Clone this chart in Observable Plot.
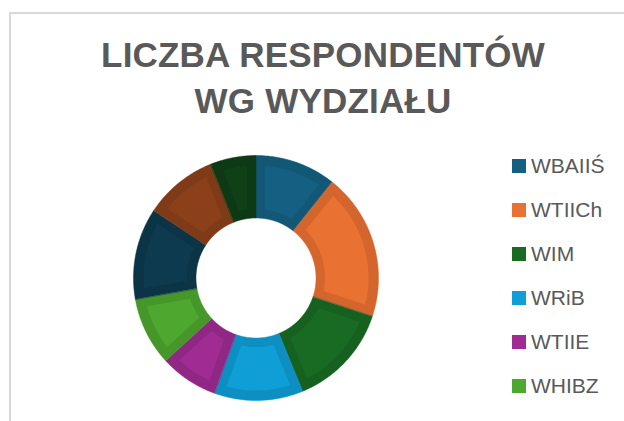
<!DOCTYPE html>
<html>
<head>
<meta charset="utf-8">
<script src="https://cdn.jsdelivr.net/npm/d3@7"></script>
<script src="https://cdn.jsdelivr.net/npm/@observablehq/plot@0.6"></script>
<style>
  html, body { margin: 0; padding: 0; background: #fff; }
  #wrap { position: relative; width: 624px; height: 421px; overflow: hidden; background: #fff; }
  #frame { position: absolute; left: 9px; top: 12px; width: 700px; height: 500px;
           border-left: 2px solid #D9D9D9; border-top: 2px solid #D9D9D9; }
  #plot { position: absolute; left: 0; top: 0; }
  #title { position: absolute; left: 23px; top: 32px; width: 600px; text-align: center;
           font-family: "Liberation Sans", Arial, sans-serif; font-weight: 700; font-size: 35px;
           line-height: 46px; color: #595959; letter-spacing: 0.2px; }
  #legend { position: absolute; left: 0; top: 0; width: 624px; height: 405px; overflow: hidden; }
  .item { position: absolute; left: 512px; height: 14px; white-space: nowrap;
          font-family: "Liberation Sans", Arial, sans-serif; font-size: 21px; line-height: 14px; color: #595959; }
  .sw { display: inline-block; width: 14px; height: 14px; vertical-align: top; margin-right: 5px; }
</style>
</head>
<body>
<div id="wrap">
  <div id="frame"></div>
  <div id="plot"></div>
  <div id="title">LICZBA RESPONDENTÓW<br>WG WYDZIAŁU</div>
  <div id="legend"></div>
</div>
<script>
// Data
const categories = ["WBAIIŚ", "WTIICh", "WIM", "WRiB", "WTIIE", "WHIBZ", "WZ", "Szkoła Doktorska", "Inne"];
const counts = [32, 58, 41, 35, 23, 27, 36, 29, 18];
const palette = ["#156082", "#E97132", "#196B24", "#0F9ED5", "#A02B93", "#4EA72E", "#0D3A4E", "#8C401A", "#0F4016"];

const data = categories.map((name, i) => ({name, value: counts[i]}));

// geometry
const cx = 255.5, cy = 277.5, R = 122.5, r0 = 60, inset = 9;
const arcs = d3.pie().sort(null).value(d => d.value)(data);

function ring(a0, a1, outer, inner, off, layer, name) {
  const pts = [];
  const n = 60;
  const o0 = a0 + Math.asin(off / outer), o1 = a1 - Math.asin(off / outer);
  const i0 = a0 + Math.asin(off / inner), i1 = a1 - Math.asin(off / inner);
  for (let k = 0; k <= n; k++) {
    const a = o0 + (o1 - o0) * k / n;
    pts.push({name, layer, x: outer * Math.sin(a), y: -outer * Math.cos(a)});
  }
  for (let k = 0; k <= n; k++) {
    const a = i1 + (i0 - i1) * k / n;
    pts.push({name, layer, x: inner * Math.sin(a), y: -inner * Math.cos(a)});
  }
  return pts;
}

const full = arcs.flatMap(a => ring(a.startAngle, a.endAngle, R, r0, 0, "full", a.data.name));
const core = arcs.flatMap(a => ring(a.startAngle, a.endAngle, R - inset - 1, r0 + inset, inset, "core", a.data.name));

const chart = Plot.plot({
  width: 624,
  height: 421,
  margin: 0,
  x: {domain: [-R, R], range: [cx - R, cx + R], axis: null},
  y: {domain: [-R, R], range: [cy - R, cy + R], axis: null},
  color: {domain: categories, range: palette},
  style: {background: "transparent"},
  marks: [
    Plot.line(full, {x: "x", y: "y", z: "name", fill: "name", stroke: "name", strokeWidth: 0.5, curve: "linear-closed"}),
    Plot.line(full, {x: "x", y: "y", z: "name", fill: "black", fillOpacity: 0.09, curve: "linear-closed"}),
    Plot.line(core, {x: "x", y: "y", z: "name", fill: "name", curve: "linear-closed"})
  ]
});
document.getElementById("plot").appendChild(chart);

// Legend (truncated like the original: only entries that fit in the chart area)
const colorScale = chart.scale("color");
const legend = document.getElementById("legend");
const legendTop = 159, legendStep = 44, legendBottom = 405;
categories.forEach((name, i) => {
  const top = legendTop + i * legendStep;
  if (top + 20 > legendBottom) return;
  const item = document.createElement("div");
  item.className = "item";
  item.style.top = top + "px";
  const sw = document.createElement("span");
  sw.className = "sw";
  sw.style.background = colorScale.range[i];
  item.appendChild(sw);
  item.appendChild(document.createTextNode(name));
  legend.appendChild(item);
});
</script>
</body>
</html>
